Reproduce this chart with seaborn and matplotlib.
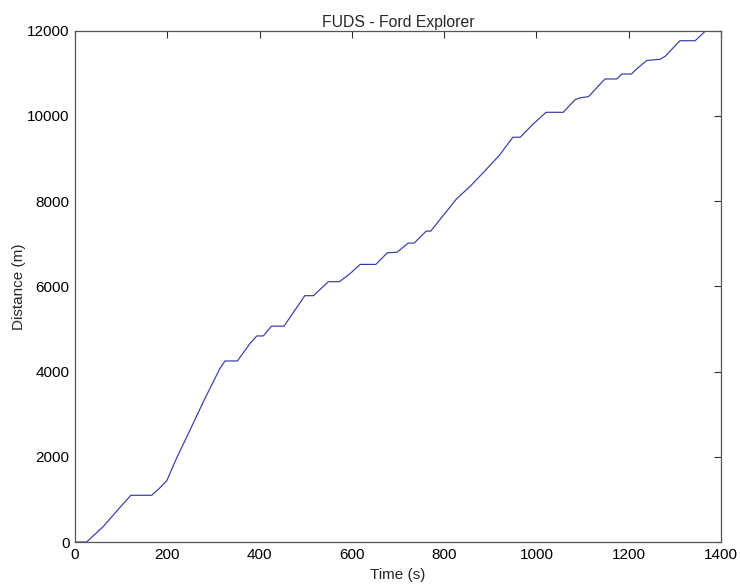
import matplotlib
matplotlib.use("Agg")
import matplotlib.pyplot as plt
import seaborn as sns
import pandas as pd

# FUDS drive cycle: cumulative distance travelled by the Ford Explorer
time_s = [0, 25, 40, 61, 90, 121, 166, 182, 199, 220, 246, 280, 314, 325,
          352, 379, 394, 408, 426, 453, 498, 517, 549, 573, 596, 618, 652,
          677, 698, 722, 735, 761, 771, 798, 827, 856, 889, 920, 949, 965,
          993, 1021, 1058, 1084, 1094, 1113, 1145, 1149, 1174, 1185, 1206,
          1217, 1239, 1268, 1279, 1311, 1344, 1365, 1372]
distance_m = [0, 0, 150, 360, 720, 1096, 1096, 1250, 1440, 1965, 2552, 3333,
              4071, 4249, 4249, 4657, 4836, 4836, 5066, 5066, 5781, 5781,
              6110, 6110, 6297, 6515, 6515, 6789, 6800, 7015, 7015, 7296,
              7296, 7663, 8055, 8343, 8718, 9080, 9500, 9500, 9811, 10085,
              10085, 10382, 10422, 10453, 10828, 10867, 10867, 10984, 10984,
              11101, 11300, 11330, 11398, 11765, 11765, 11980, 11990]

x_ticks = [0, 200, 400, 600, 800, 1000, 1200, 1400]
y_ticks = [0, 2000, 4000, 6000, 8000, 10000, 12000]

sns.set_style("white")
plt.rcParams["font.family"] = ["Liberation Sans", "DejaVu Sans"]

df = pd.DataFrame({"Time (s)": time_s, "Distance (m)": distance_m})

fig = plt.figure(figsize=(7.4, 5.86), dpi=100)
ax = fig.add_axes([75 / 740, 44 / 586, 646 / 740, 511.3 / 586])

sns.lineplot(data=df, x="Time (s)", y="Distance (m)", ax=ax,
             color="#3838a8", linewidth=0.85, estimator=None, sort=False)

ax.set_xlim(0, 1400)
ax.set_ylim(0, 12000)
ax.set_xticks(x_ticks)
ax.set_yticks(y_ticks)
ax.set_xticklabels([str(v) for v in x_ticks])
ax.set_yticklabels([str(v) for v in y_ticks])

ax.tick_params(direction="in", length=5, width=0.8, color="#333333",
               top=True, right=True, labelsize=11, pad=4, labelcolor="black")
for side in ax.spines.values():
    side.set_visible(True)
    side.set_color("#555555")
    side.set_linewidth(0.9)

ax.set_xlabel("Time (s)", fontsize=11, labelpad=5)
ax.set_ylabel("Distance (m)", fontsize=11, labelpad=1)
ax.set_title("FUDS - Ford Explorer", fontsize=11.3, pad=3)

fig.savefig("out.png", dpi=100, facecolor="white")
